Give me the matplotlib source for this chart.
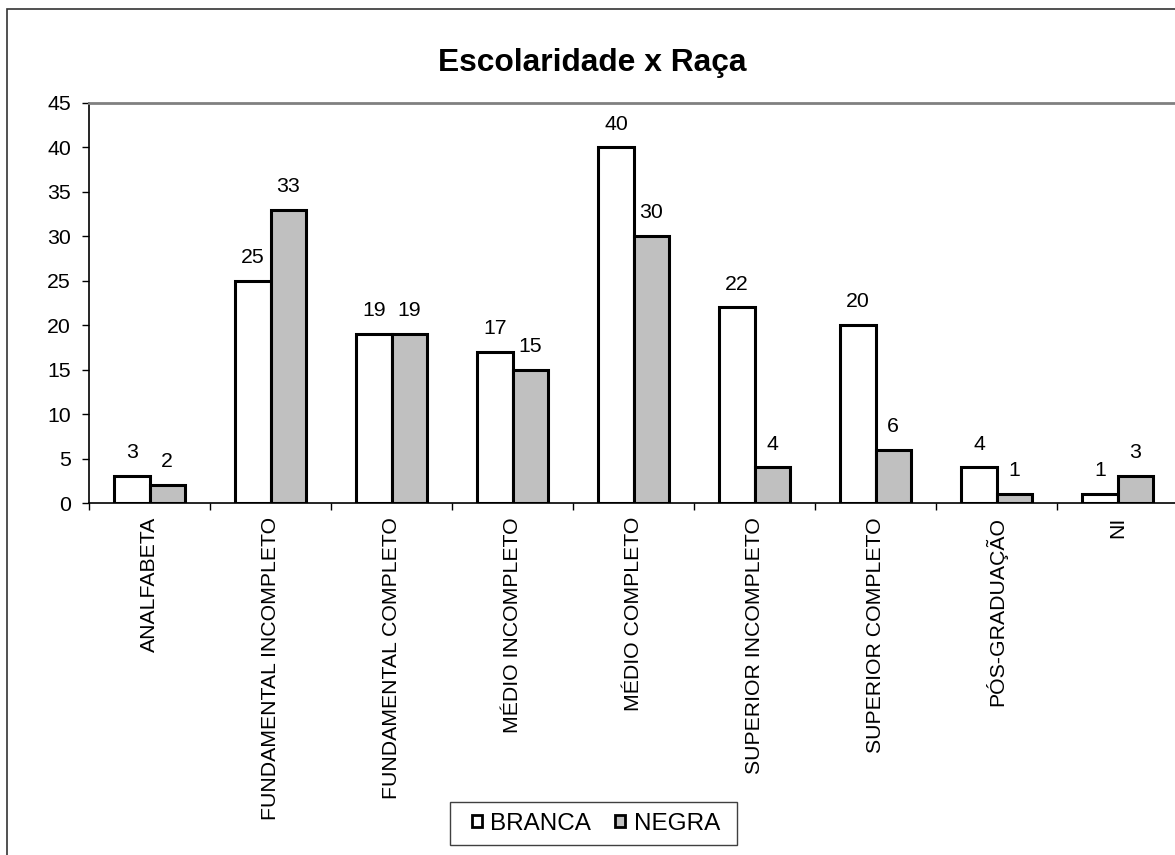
import matplotlib
matplotlib.use("Agg")
import matplotlib.pyplot as plt
import numpy as np
from matplotlib.patches import Rectangle

categories = ["ANALFABETA", "FUNDAMENTAL INCOMPLETO", "FUNDAMENTAL COMPLETO",
              "MÉDIO INCOMPLETO", "MÉDIO COMPLETO", "SUPERIOR INCOMPLETO",
              "SUPERIOR COMPLETO", "PÓS-GRADUAÇÃO", "NI"]
branca = [3, 25, 19, 17, 40, 22, 20, 4, 1]
negra = [2, 33, 19, 15, 30, 4, 6, 1, 3]
yticks = [0, 5, 10, 15, 20, 25, 30, 35, 40, 45]

plt.rcParams["font.family"] = ["Liberation Sans", "DejaVu Sans"]

W, H = 1175, 855
fig = plt.figure(figsize=(W / 100, H / 100), dpi=100)

# outer chart frame
fig.patches.append(Rectangle((7 / W, -0.1), 1.2, (H - 9) / H + 0.1,
                             transform=fig.transFigure, fill=False,
                             edgecolor="#333333", linewidth=1.2))

left, right, top, bottom = 89, 1178, 103, 503
ax = fig.add_axes([left / W, 1 - bottom / H, (right - left) / W, (bottom - top) / H])

FS = 15.3
x = np.arange(len(categories))
bw = 0.29
b1 = ax.bar(x - bw / 2, branca, bw, color="white", edgecolor="black", linewidth=2.2,
            label="BRANCA", zorder=3)
b2 = ax.bar(x + bw / 2, negra, bw, color="#C0C0C0", edgecolor="black", linewidth=2.2,
            label="NEGRA", zorder=3)

for bars, vals in ((b1, branca), (b2, negra)):
    for r, v in zip(bars, vals):
        ax.annotate(str(v), (r.get_x() + r.get_width() / 2, v), xytext=(0, 10),
                    textcoords="offset points", ha="center", va="bottom", fontsize=FS)

ax.set_xlim(-0.5, len(categories) - 0.5)
ax.set_ylim(0, 45)
ax.set_yticks(yticks)
ax.tick_params(axis="y", labelsize=FS, length=5, width=1, direction="out", pad=8)
ax.set_xticks(x)
ax.set_xticklabels(categories, rotation=90, fontsize=FS)
ax.tick_params(axis="x", which="major", length=0, pad=10)
ax.set_xticks(np.arange(len(categories) + 1) - 0.5, minor=True)
ax.tick_params(axis="x", which="minor", length=5, width=1, direction="out")

ax.spines["top"].set_color("#808080")
ax.spines["top"].set_linewidth(2)
ax.spines["right"].set_visible(False)
ax.spines["left"].set_linewidth(1.2)
ax.spines["bottom"].set_linewidth(1.2)

fig.text(592 / W, 1 - 63 / H, "Escolaridade x Raça", ha="center", va="center",
         fontsize=22.9, fontweight="bold")

leg = fig.legend(handles=[b1, b2], loc="center", bbox_to_anchor=(596 / W, 1 - 823.5 / H),
                 ncol=2, fontsize=17.5, frameon=False,
                 handlelength=0.4, handleheight=0.4, handletextpad=0.35,
                 columnspacing=1.0, borderpad=0.45, borderaxespad=0)
for h in leg.legend_handles:
    h.set_linewidth(2)

# legend box
fig.patches.append(Rectangle((450 / W, 1 - 845 / H), 287 / W, 43 / H,
                             transform=fig.transFigure, facecolor="white",
                             edgecolor="#404040", linewidth=1, zorder=0))

fig.savefig("out.png", dpi=100)
